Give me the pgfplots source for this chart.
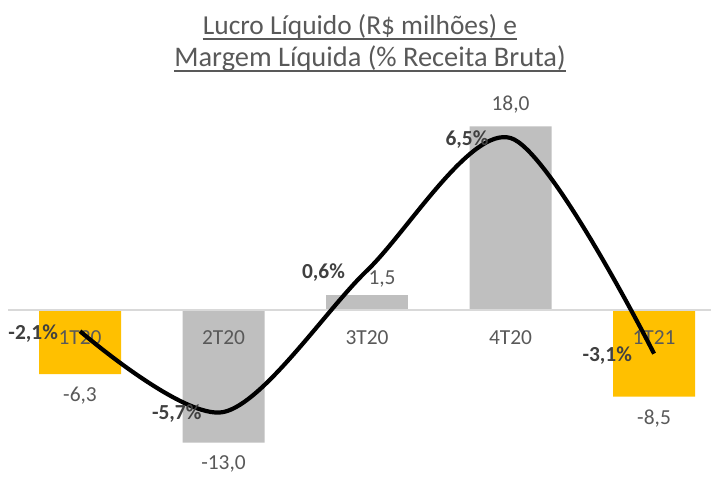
\documentclass[border=0pt]{standalone}
\usepackage{fontspec}
\setmainfont{Carlito}
\usepackage{pgfplots}
\pgfplotsset{compat=1.18}
\definecolor{gold}{HTML}{FFC000}
\definecolor{barGray}{HTML}{BFBFBF}
\definecolor{txt}{HTML}{595959}
\definecolor{txtDark}{HTML}{404040}
\definecolor{zeroLine}{HTML}{D9D9D9}

\begin{document}
\begin{tikzpicture}
\pgfplotsset{
  every axis/.append style={
    scale only axis, width=703.2bp, height=380bp,
    xmin=-0.5, xmax=4.4,
    at={(8.25bp,4bp)}, anchor=south west,
    clip=false,
    /pgf/number format/use comma,
    /pgf/number format/fixed,
    /pgf/number format/fixed zerofill,
    /pgf/number format/precision=1,
    /pgf/number format/assume math mode=true,
  }
}
% bars: Lucro Liquido (R$ milhoes)
\begin{axis}[
  ymin=-16.18, ymax=21.08,
  axis on top,
  axis x line*=middle, axis y line=none,
  x axis line style={zeroLine, line width=1.2bp},
  xtick={0,...,4}, xticklabels={1T20,2T20,3T20,4T20,1T21},
  major tick length=0pt,
  xticklabel style={font=\fontsize{21.5}{25}\selectfont, text=txt, yshift=-17bp},
  ybar, bar width=82bp, bar shift=0pt,
  nodes near coords,
  every node near coord/.append style={font=\fontsize{21.5}{25}\selectfont, text=txt, inner sep=13bp},
]
\addplot[fill=gold, draw=none] coordinates {(0,-6.3) (4,-8.5)};
\addplot[fill=barGray, draw=none] coordinates {(1,-13.0) (3,18.0)};
\addplot[fill=barGray, draw=none,
  every node near coord/.append style={xshift=15bp, yshift=-6bp}] coordinates {(2,1.5)};
\end{axis}
% line: Margem Liquida (%)
\begin{axis}[
  ymin=-8.504, ymax=8.415,
  hide axis,
]
\addplot[black, line width=4.2bp, smooth,
  nodes near coords={\pgfmathprintnumber{\pgfplotspointmeta}\%},
  nodes near coords align={east},
  every node near coord/.append style={anchor=east, xshift=-20bp, yshift=-2bp, inner sep=0pt,
    font=\bfseries\fontsize{21.5}{25}\selectfont, text=txtDark}]
  coordinates {(0,-2.1) (1,-5.7) (2,0.6) (3,6.5) (4,-3.1)};
\end{axis}
% title
\node[anchor=base, inner sep=0pt, text=txt, font=\fontsize{27.5}{33}\selectfont] (t1) at (360bp,444bp) {Lucro Líquido (R\$ milhões) e};
\node[anchor=base, inner sep=0pt, text=txt, font=\fontsize{28.5}{33}\selectfont] (t2) at (370bp,412bp) {Margem Líquida (\% Receita Bruta)};
\draw[txt, line width=1.5bp] ([yshift=-4bp]t1.base west) -- ([yshift=-4bp]t1.base east);
\draw[txt, line width=1.5bp] ([yshift=-4bp]t2.base west) -- ([yshift=-4bp]t2.base east);
\pgfresetboundingbox
\path[use as bounding box] (0,0) rectangle (712bp,479bp);
\end{tikzpicture}
\end{document}
